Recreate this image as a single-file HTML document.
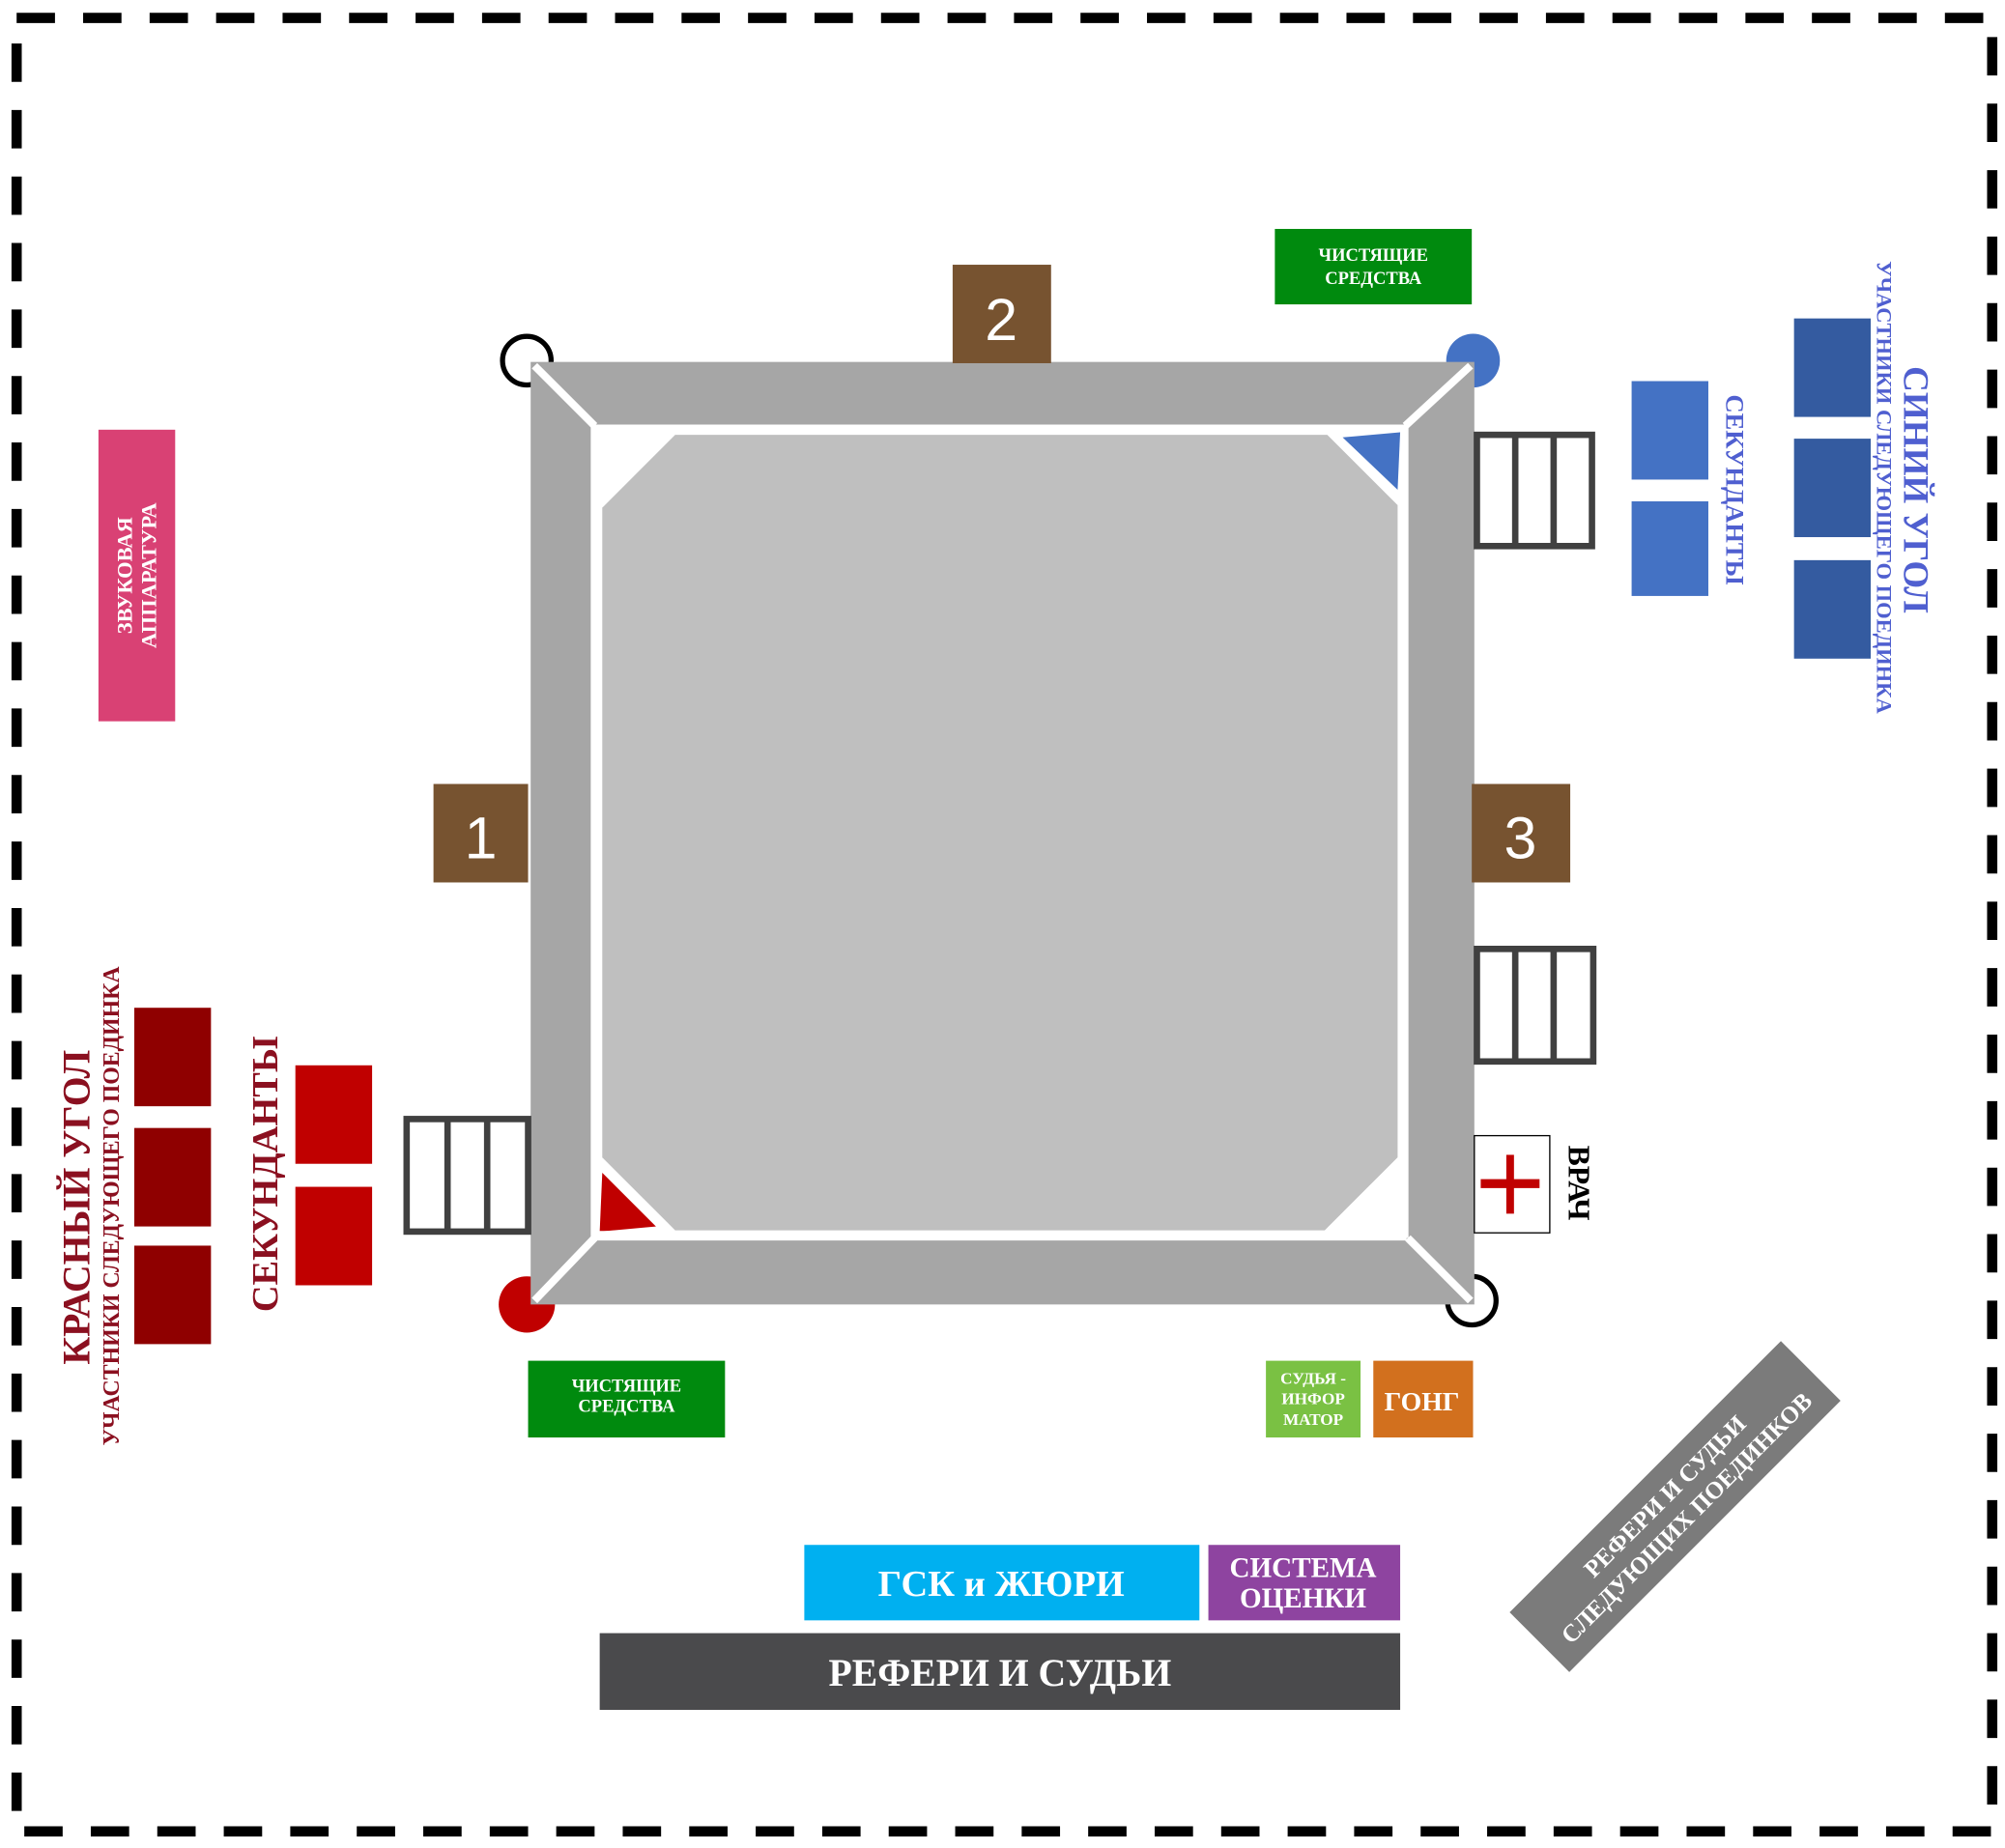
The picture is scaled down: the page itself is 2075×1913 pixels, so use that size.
<!DOCTYPE html>
<html><head><meta charset="utf-8"><style>
html,body{margin:0;padding:0;background:#fff;}
svg{display:block;}
text{font-family:"Liberation Serif",serif;font-weight:bold;}
</style></head><body>
<svg width="2075" height="1913" viewBox="0 0 1568 1445" preserveAspectRatio="none" xmlns="http://www.w3.org/2000/svg">
<rect x="0" y="0" width="1568" height="1445" fill="#fff"/>
<rect x="13" y="14" width="1545" height="1418" fill="none" stroke="#000" stroke-width="8" stroke-dasharray="30,22"/>

<circle cx="412" cy="282" r="19" fill="none" stroke="#000" stroke-width="4"/>
<circle cx="1152" cy="282" r="21" fill="#4472c4"/>
<circle cx="412" cy="1020" r="22" fill="#c00000"/>
<circle cx="1151" cy="1017" r="19" fill="none" stroke="#000" stroke-width="4"/>

<rect x="415" y="283" width="738" height="737" fill="#a6a6a6"/>
<polygon points="462,332 1100,332 1100,970 462,970" fill="#fff"/>
<polygon points="466,336 1096,336 1093,964 470,966" fill="#fff"/>
<polygon points="528,340 1038,340 1093,395 1093,905 1036,962 528,962 471,905 471,397" fill="#bfbfbf"/>
<polygon points="1050,342 1095,338 1093,383" fill="#4472c4"/>
<polygon points="471,917 469,963 513,959" fill="#c00000"/>
<g stroke="#fff" stroke-width="6">
<line x1="418" y1="286" x2="465" y2="333"/>
<line x1="1150" y1="286" x2="1099" y2="333"/>
<line x1="418" y1="1017" x2="465" y2="968"/>
<line x1="1150" y1="1017" x2="1101" y2="968"/>
</g>
<g stroke="#fff" stroke-width="5" fill="none">
<line x1="466" y1="333" x2="466" y2="968"/>
<line x1="1099" y1="333" x2="1099" y2="968"/>
<line x1="466" y1="335" x2="1099" y2="335"/>
<line x1="466" y1="965" x2="1099" y2="965"/>
</g>

<rect x="745" y="207" width="77" height="77" fill="#775330"/>
<text x="783" y="266" font-size="46" fill="#fff" text-anchor="middle" style="font-family:'Liberation Sans',sans-serif;font-weight:normal">2</text>
<rect x="339" y="613" width="74" height="77" fill="#775330"/>
<text x="376" y="671" font-size="46" fill="#fff" text-anchor="middle" style="font-family:'Liberation Sans',sans-serif;font-weight:normal">1</text>
<rect x="1151" y="613" width="77" height="77" fill="#775330"/>
<text x="1189" y="671" font-size="46" fill="#fff" text-anchor="middle" style="font-family:'Liberation Sans',sans-serif;font-weight:normal">3</text>

<g fill="#fff" stroke="#404040" stroke-width="5">
<rect x="1155" y="340" width="90" height="87"/>
<line x1="1185" y1="340" x2="1185" y2="427"/><line x1="1215" y1="340" x2="1215" y2="427"/>
<rect x="1155" y="742" width="91" height="88"/>
<line x1="1185" y1="742" x2="1185" y2="830"/><line x1="1215" y1="742" x2="1215" y2="830"/>
<rect x="318" y="875" width="95" height="88"/>
<line x1="350" y1="875" x2="350" y2="963"/><line x1="381" y1="875" x2="381" y2="963"/>
</g>

<rect x="997" y="179" width="154" height="59" fill="#008a0e"/>
<text x="1074" y="204" font-size="14" fill="#fff" text-anchor="middle">ЧИСТЯЩИЕ</text>
<text x="1074" y="222" font-size="14" fill="#fff" text-anchor="middle">СРЕДСТВА</text>
<rect x="413" y="1064" width="154" height="60" fill="#008a0e"/>
<text x="490" y="1088" font-size="14" fill="#fff" text-anchor="middle">ЧИСТЯЩИЕ</text>
<text x="490" y="1104" font-size="14" fill="#fff" text-anchor="middle">СРЕДСТВА</text>

<rect x="77" y="336" width="60" height="228" fill="#d94174"/>
<g transform="translate(107,450) rotate(-90)">
<text x="0" y="-4" font-size="17" fill="#fff" text-anchor="middle">ЗВУКОВАЯ</text>
<text x="0" y="15" font-size="17" fill="#fff" text-anchor="middle">АППАРАТУРА</text>
</g>

<rect x="1403" y="249" width="60" height="77" fill="#345ba0"/>
<rect x="1403" y="343" width="60" height="77" fill="#345ba0"/>
<rect x="1403" y="438" width="60" height="77" fill="#345ba0"/>
<rect x="1276" y="298" width="60" height="77" fill="#4472c4"/>
<rect x="1276" y="392" width="60" height="74" fill="#4472c4"/>
<text transform="translate(1489,383) rotate(90)" font-size="28" fill="#4f5fd0" text-anchor="middle">СИНИЙ УГОЛ</text>
<text transform="translate(1468,381) rotate(90)" font-size="17" fill="#4f5fd0" text-anchor="middle">УЧАСТНИКИ СЛЕДУЮЩЕГО ПОЕДИНКА</text>
<text transform="translate(1350,383) rotate(90)" font-size="20" fill="#4f5fd0" text-anchor="middle">СЕКУНДАНТЫ</text>

<rect x="105" y="788" width="60" height="77" fill="#8f0000"/>
<rect x="105" y="882" width="60" height="77" fill="#8f0000"/>
<rect x="105" y="974" width="60" height="77" fill="#8f0000"/>
<rect x="231" y="833" width="60" height="77" fill="#c00000"/>
<rect x="231" y="928" width="60" height="77" fill="#c00000"/>
<text transform="translate(70,944) rotate(-90)" font-size="30" fill="#8b1020" text-anchor="middle">КРАСНЫЙ УГОЛ</text>
<text transform="translate(93,943) rotate(-90)" font-size="18" fill="#8b1020" text-anchor="middle">УЧАСТНИКИ СЛЕДУЮЩЕГО ПОЕДИНКА</text>
<text transform="translate(217,918) rotate(-90)" font-size="29" fill="#8b1020" text-anchor="middle">СЕКУНДАНТЫ</text>

<rect x="1153" y="888" width="59" height="76" fill="#fff" stroke="#000" stroke-width="1"/>
<rect x="1178" y="903" width="6" height="46" fill="#c00000"/>
<rect x="1158" y="922" width="46" height="7" fill="#c00000"/>
<text transform="translate(1227,925) rotate(90)" font-size="24" fill="#000" text-anchor="middle">ВРАЧ</text>

<rect x="990" y="1064" width="74" height="60" fill="#7ac143"/>
<text x="1027" y="1082" font-size="13" fill="#fff" text-anchor="middle">СУДЬЯ -</text>
<text x="1027" y="1098" font-size="13" fill="#fff" text-anchor="middle">ИНФОР</text>
<text x="1027" y="1114" font-size="13" fill="#fff" text-anchor="middle">МАТОР</text>
<rect x="1074" y="1064" width="78" height="60" fill="#d2701e"/>
<text x="1112" y="1103" font-size="21" fill="#fff" text-anchor="middle">ГОНГ</text>

<rect x="629" y="1208" width="309" height="59" fill="#00b0f0"/>
<text x="783" y="1248" font-size="29" fill="#fff" text-anchor="middle">ГСК и ЖЮРИ</text>
<rect x="945" y="1208" width="150" height="59" fill="#8e44a0"/>
<text x="1019" y="1233" font-size="22" fill="#fff" text-anchor="middle">СИСТЕМА</text>
<text x="1019" y="1257" font-size="22" fill="#fff" text-anchor="middle">ОЦЕНКИ</text>
<rect x="469" y="1277" width="626" height="60" fill="#4a4a4c"/>
<text x="782" y="1318" font-size="30" fill="#fff" text-anchor="middle">РЕФЕРИ И СУДЬИ</text>

<g transform="translate(1310,1178) rotate(-45)">
<rect x="-150" y="-33" width="300" height="66" fill="#7b7b7b"/>
<text x="0" y="-5" font-size="19" fill="#fff" text-anchor="middle">РЕФЕРИ И СУДЬИ</text>
<text x="0" y="19" font-size="19" fill="#fff" text-anchor="middle">СЛЕДУЮЩИХ ПОЕДИНКОВ</text>
</g>
</svg>
</body></html>
